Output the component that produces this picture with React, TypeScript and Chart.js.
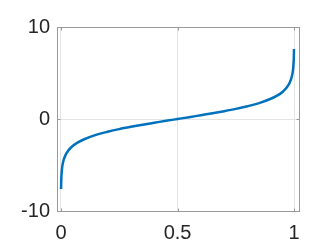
import React, { useEffect, useRef } from "react";
import { Chart, registerables } from "chart.js";

Chart.register(...registerables);

const probabilities = [
  0.0005, 0.001, 0.002, 0.005, 0.01, 0.02, 0.03, 0.05, 0.075, 0.1, 0.15, 0.2, 0.25, 0.3, 0.35, 0.4, 0.45, 0.5,
  0.55, 0.6, 0.65, 0.7, 0.75, 0.8, 0.85, 0.9, 0.925, 0.95, 0.97, 0.98, 0.99, 0.995, 0.998, 0.999, 0.9995,
];
const logitValues = [
  -7.6, -6.91, -6.21, -5.29, -4.6, -3.89, -3.48, -2.94, -2.51, -2.2, -1.73, -1.39, -1.1, -0.85, -0.62, -0.41, -0.2, 0,
  0.2, 0.41, 0.62, 0.85, 1.1, 1.39, 1.73, 2.2, 2.51, 2.94, 3.48, 3.89, 4.6, 5.29, 6.21, 6.91, 7.6,
];
const xTicks = [0, 0.5, 1];
const yTicks = [-10, 0, 10];
const xTickLabels = ["0", "0.5", "1"];
const yTickLabels = ["-10", "0", "10"];

const boxPlugin = {
  id: "boxPlugin",
  afterDraw(chart: any) {
    const { ctx, chartArea, scales } = chart;
    const l = Math.round(chartArea.left) + 0.5;
    const t = Math.round(chartArea.top) + 0.5;
    const r = Math.round(chartArea.right) + 0.5;
    const b = Math.round(chartArea.bottom) + 0.5;
    ctx.save();
    ctx.strokeStyle = "#9a9a9a";
    ctx.lineWidth = 1;
    ctx.strokeRect(l, t, r - l, b - t);
    ctx.beginPath();
    xTicks.forEach((v) => {
      const x = Math.round(scales.x.getPixelForValue(v)) + 0.5;
      ctx.moveTo(x, b);
      ctx.lineTo(x, b - 3);
      ctx.moveTo(x, t);
      ctx.lineTo(x, t + 3);
    });
    yTicks.forEach((v) => {
      const y = Math.round(scales.y.getPixelForValue(v)) + 0.5;
      ctx.moveTo(l, y);
      ctx.lineTo(l + 3, y);
      ctx.moveTo(r, y);
      ctx.lineTo(r - 3, y);
    });
    ctx.stroke();
    ctx.restore();
  },
};

export default function App() {
  const ref = useRef<HTMLCanvasElement | null>(null);
  useEffect(() => {
    if (!ref.current) return;
    const chart = new Chart(ref.current, {
      type: "line",
      data: {
        datasets: [
          {
            data: probabilities.map((p, i) => ({ x: p, y: logitValues[i] })),
            borderColor: "#0072BD",
            borderWidth: 2.5,
            pointRadius: 0,
            fill: false,
            cubicInterpolationMode: "monotone",
          },
        ],
      },
      options: {
        animation: false,
        responsive: false,
        maintainAspectRatio: false,
        layout: { padding: { left: 0, right: 37, top: 27, bottom: 0 } },
        plugins: { legend: { display: false }, tooltip: { enabled: false } },
        scales: {
          x: {
            type: "linear",
            min: -0.017,
            max: 1.021,
            afterBuildTicks: (axis: any) => {
              axis.ticks = xTicks.map((v) => ({ value: v }));
            },
            afterFit: (axis: any) => {
              axis.height = 41;
            },
            grid: { color: "#e4e4e4", lineWidth: 1, drawTicks: false },
            border: { display: false },
            ticks: {
              padding: 10,
              color: "#262626",
              font: { family: "'Liberation Sans', Arial, sans-serif", size: 20 },
              callback: (v: any) => {
                const i = xTicks.indexOf(Number(v));
                return i >= 0 ? xTickLabels[i] : "";
              },
              maxRotation: 0,
            },
          },
          y: {
            type: "linear",
            min: -10,
            max: 10,
            afterBuildTicks: (axis: any) => {
              axis.ticks = yTicks.map((v) => ({ value: v }));
            },
            afterFit: (axis: any) => {
              axis.width = 57;
            },
            grid: { color: "#e4e4e4", lineWidth: 1, drawTicks: false },
            border: { display: false },
            ticks: {
              padding: 7,
              color: "#262626",
              font: { family: "'Liberation Sans', Arial, sans-serif", size: 20 },
              callback: (v: any) => {
                const i = yTicks.indexOf(Number(v));
                return i >= 0 ? yTickLabels[i] : "";
              },
            },
          },
        },
      },
      plugins: [boxPlugin],
    } as any);
    return () => chart.destroy();
  }, []);
  return (
    <div style={{ position: "fixed", left: 0, top: 0, width: 336, height: 252, background: "#fff" }}>
      <canvas ref={ref} width={336} height={252} style={{ width: 336, height: 252 }} />
    </div>
  );
}
